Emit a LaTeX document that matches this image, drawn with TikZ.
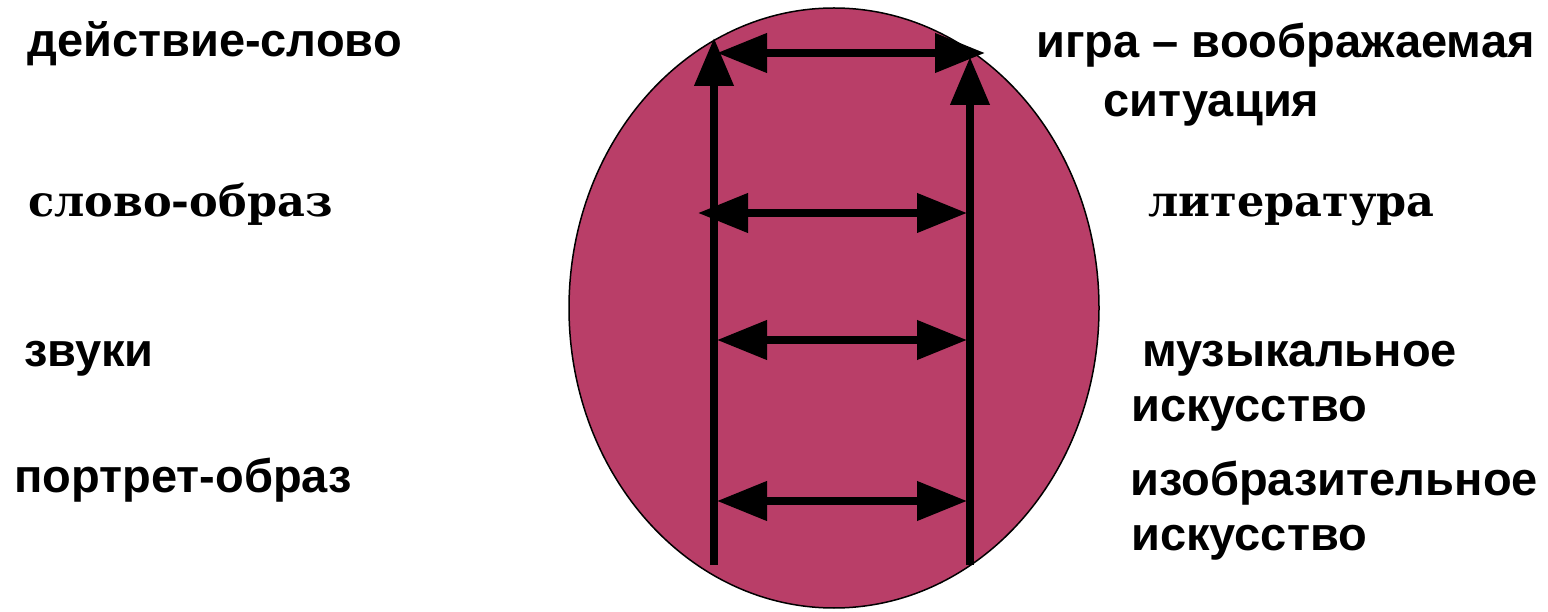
\documentclass[tikz,border=0pt]{standalone}
\usepackage{fontspec}
\setmainfont{Liberation Sans}
\newfontfamily\slabfont{DejaVu Serif}
\usepackage{tikz}
\usetikzlibrary{arrows.meta}
\definecolor{ovalfill}{RGB}{185,62,104}

\tikzset{
  rung/.style={line width=7.5pt,{Triangle[length=50pt,width=38pt]}-{Triangle[length=50pt,width=38pt]}},
  rail/.style={line width=7.5pt,-{Triangle[length=48pt,width=38pt]}},
  lbl/.style={anchor=base west,inner sep=0pt,font=\fontsize{47}{52}\selectfont\bfseries},
  slab/.style={anchor=base west,inner sep=0pt,font=\slabfont\fontsize{43}{48}\selectfont\bfseries},
}

\begin{document}
\begin{tikzpicture}[x=1pt,y=1pt]
\useasboundingbox (0,0) rectangle (1548,611);
% objects at depth 100:
\path[draw=black,line width=1.5pt,fill=ovalfill] (834,303) ellipse [x radius=265,y radius=300];
% end points of the rails and rungs:
\coordinate (lbot) at (714,46);
\coordinate (ltop) at (714,573);
\coordinate (rbot) at (970,46);
\coordinate (rtop) at (970,554);
\coordinate (a1) at (717,558);
\coordinate (b1) at (985,558);
\coordinate (a2) at (698,398);
\coordinate (b2) at (967,398);
\coordinate (a3) at (717,271);
\coordinate (b3) at (967,271);
\coordinate (a4) at (717,110);
\coordinate (b4) at (967,110);
% objects at depth 50:
\draw[rail] (lbot) -- (ltop);
\draw[rail] (rbot) -- (rtop);
\draw[rung] (a1) -- (b1);
\draw[rung] (a2) -- (b2);
\draw[rung] (a3) -- (b3);
\draw[rung] (a4) -- (b4);
% labels, left:
\node[lbl] (act) at (27,554) {действие-слово};
\node[slab] (word) at (28,394) {слово-образ};
\node[lbl] (snd) at (24,244) {звуки};
\node[lbl] (port) at (14,119) {портрет-образ};
% labels, right:
\node[lbl] (game) at (1036,553) {игра – воображаемая};
\node[lbl] (sit) at (1103,494) {ситуация};
\node[slab] (lit) at (1148,394) {литература};
\node[lbl] (mus) at (1142,244) {музыкальное};
\node[lbl] (art1) at (1131,189) {искусство};
\node[lbl] (fine) at (1130,116) {изобразительное};
\node[lbl] (art2) at (1131,61) {искусство};
\end{tikzpicture}
\end{document}
